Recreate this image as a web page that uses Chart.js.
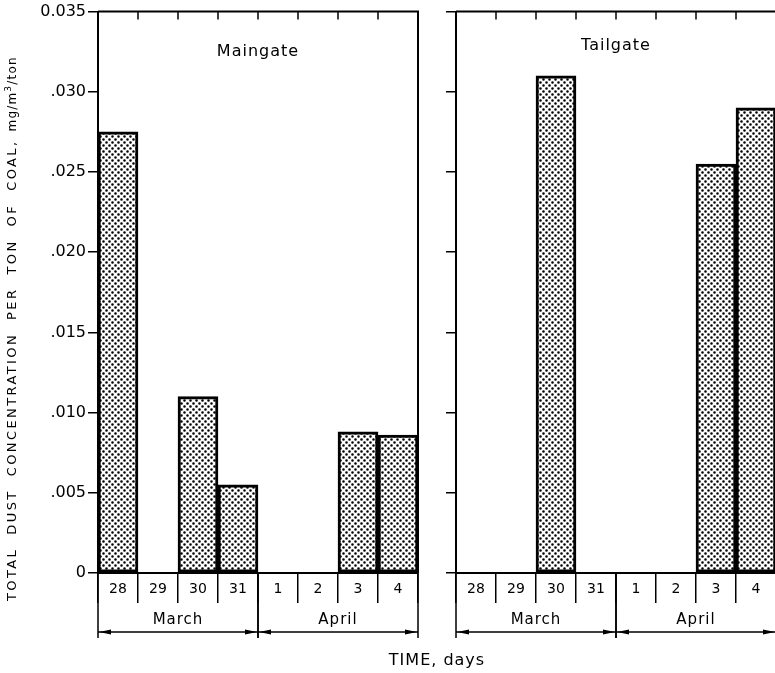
<!DOCTYPE html>
<html>
<head>
<meta charset="utf-8">
<script src="https://cdn.jsdelivr.net/npm/chart.js@4.4.1/dist/chart.umd.min.js"></script>
<style>
html, body { margin: 0; padding: 0; background: #fff; overflow: hidden; }
#wrap { position: relative; width: 775px; height: 673px; overflow: hidden; }
#leftChart { position: absolute; left: 0; top: 0; }
#rightChart { position: absolute; left: 440px; top: 0; }
</style>
</head>
<body>
<div id="wrap">
  <canvas id="leftChart" width="775" height="673"></canvas>
  <canvas id="rightChart" width="360" height="673"></canvas>
</div>
<script>
// values
const days = ['28', '29', '30', '31', '1', '2', '3', '4'];
const maingate = [0.0275, null, 0.011, 0.0055, null, null, 0.0088, 0.0086];
const tailgate = [null, null, 0.031, null, null, null, 0.0255, 0.029];
const months = ['March', 'April'];
const monthFirst = [0, 4];
const monthLast = [3, 7];
const yMin = 0, yMax = 0.035, yStep = 0.005;
const yTitle = 'TOTAL  DUST  CONCENTRATION  PER  TON  OF  COAL,';
const yUnit = ['mg/m', '3', '/ton'];
const xTitle = 'TIME, days';

const FONT = '"DejaVu Sans", sans-serif';

// dotted fill like the screen tone of the original
function dotPattern() {
    var tile = document.createElement('canvas');
    tile.width = 6; tile.height = 6;
    var g = tile.getContext('2d');
    g.fillStyle = '#fff';
    g.fillRect(0, 0, 6, 6);
    g.fillStyle = '#000';
    g.beginPath();
    g.arc(1.5, 1.5, 1.3, 0, Math.PI * 2);
    g.arc(4.5, 4.5, 1.3, 0, Math.PI * 2);
    g.fill();
    return document.createElement('canvas').getContext('2d').createPattern(tile, 'repeat');
}
const dots = dotPattern();

function yLabel(value) {
    if (Math.abs(value) < 1e-9) return '0';
    var s = value.toFixed(3);
    if (Math.abs(value - yMax) < 1e-9) return s;
    return s.substring(1);
}

function drawArrow(ctx, tipX, y, dir) {
    ctx.beginPath();
    ctx.moveTo(tipX, y);
    ctx.lineTo(tipX + dir * 12, y - 2.5);
    ctx.lineTo(tipX + dir * 12, y + 2.5);
    ctx.closePath();
    ctx.fill();
}

function panelPlugin(title, titleY, withAxisTitles) {
    return {
        id: 'panelFrame',
        afterDraw(chart) {
            const ctx = chart.ctx;
            const a = chart.chartArea;
            const x = chart.scales.x;
            const edge = i => x.getPixelForValue(i - 0.5);
            ctx.save();
            ctx.strokeStyle = '#000';
            ctx.fillStyle = '#000';

            // top and right frame
            ctx.lineWidth = 2;
            ctx.beginPath();
            ctx.moveTo(a.left, a.top);
            ctx.lineTo(a.right, a.top);
            ctx.lineTo(a.right, a.bottom);
            ctx.stroke();

            // inward ticks on the top edge
            ctx.lineWidth = 1.5;
            for (let i = 1; i < days.length; i++) {
                ctx.beginPath();
                ctx.moveTo(edge(i), a.top);
                ctx.lineTo(edge(i), a.top + 8);
                ctx.stroke();
            }

            // month brackets
            const arrowY = 632;
            for (let m = 0; m < months.length; m++) {
                const x0 = edge(monthFirst[m]);
                const x1 = edge(monthLast[m] + 1);
                ctx.lineWidth = 1.5;
                ctx.beginPath();
                ctx.moveTo(x0, a.bottom); ctx.lineTo(x0, 638);
                ctx.moveTo(x1, a.bottom); ctx.lineTo(x1, 638);
                ctx.moveTo(x0, arrowY); ctx.lineTo(x1, arrowY);
                ctx.stroke();
                drawArrow(ctx, x0 + 1, arrowY, 1);
                drawArrow(ctx, x1 - 1, arrowY, -1);
                ctx.font = '15px ' + FONT;
                ctx.letterSpacing = '1px';
                ctx.textAlign = 'center';
                ctx.textBaseline = 'middle';
                ctx.fillText(months[m], (x0 + x1) / 2, 620);
            }

            // panel name
            ctx.font = '16px ' + FONT;
            ctx.letterSpacing = '1px';
            ctx.textAlign = 'center';
            ctx.textBaseline = 'middle';
            ctx.fillText(title, (a.left + a.right) / 2, titleY);

            if (withAxisTitles) {
                ctx.fillText(xTitle, 437, 661);

                ctx.translate(13, 601);
                ctx.rotate(-Math.PI / 2);
                ctx.textAlign = 'left';
                ctx.font = '13px ' + FONT;
                ctx.letterSpacing = '2.4px';
                ctx.fillText(yTitle, 0, 0);
                let pos = ctx.measureText(yTitle).width + 8;
                ctx.font = '12px ' + FONT;
                ctx.letterSpacing = '1.2px';
                ctx.fillText(yUnit[0], pos, 0);
                pos += ctx.measureText(yUnit[0]).width;
                ctx.font = '9px ' + FONT;
                ctx.fillText(yUnit[1], pos, -4);
                pos += ctx.measureText(yUnit[1]).width;
                ctx.font = '12px ' + FONT;
                ctx.fillText(yUnit[2], pos, 0);
            }
            ctx.restore();
        }
    };
}

function drawPanel(canvasId, values, title, titleY, padRight, yWidth, withLabels) {
    return new Chart(document.getElementById(canvasId), {
        type: 'bar',
        data: {
            labels: days,
            datasets: [{
                data: values,
                backgroundColor: dots,
                borderColor: '#000',
                borderWidth: 3,
                borderSkipped: false,
                categoryPercentage: 1,
                barPercentage: 1
            }]
        },
        options: {
            responsive: false,
            animation: false,
            devicePixelRatio: 1,
            layout: { padding: { left: 0, top: 10, right: padRight, bottom: 0 } },
            plugins: { legend: { display: false }, tooltip: { enabled: false } },
            scales: {
                x: {
                    offset: true,
                    afterFit: s => { s.height = 100; },
                    grid: { offset: true, drawOnChartArea: false, drawTicks: true, tickLength: 30, color: '#000', lineWidth: 1.5 },
                    border: { display: true, color: '#000', width: 2 },
                    ticks: { color: '#000', padding: -22, autoSkip: false, maxRotation: 0, font: { family: FONT, size: 14 } }
                },
                y: {
                    min: yMin,
                    max: yMax,
                    afterFit: s => { s.width = yWidth; },
                    grid: { drawOnChartArea: false, drawTicks: true, tickLength: 10, color: '#000', lineWidth: 1.5 },
                    border: { display: true, color: '#000', width: 2 },
                    ticks: {
                        stepSize: yStep,
                        color: '#000',
                        padding: 2,
                        font: { family: FONT, size: 16 },
                        callback: v => withLabels ? yLabel(v) : ''
                    }
                }
            }
        },
        plugins: [panelPlugin(title, titleY, withLabels)]
    });
}

drawPanel('leftChart', maingate, 'Maingate', 52, 357, 98, true);
drawPanel('rightChart', tailgate, 'Tailgate', 46, 24, 16, false);
</script>
</body>
</html>
